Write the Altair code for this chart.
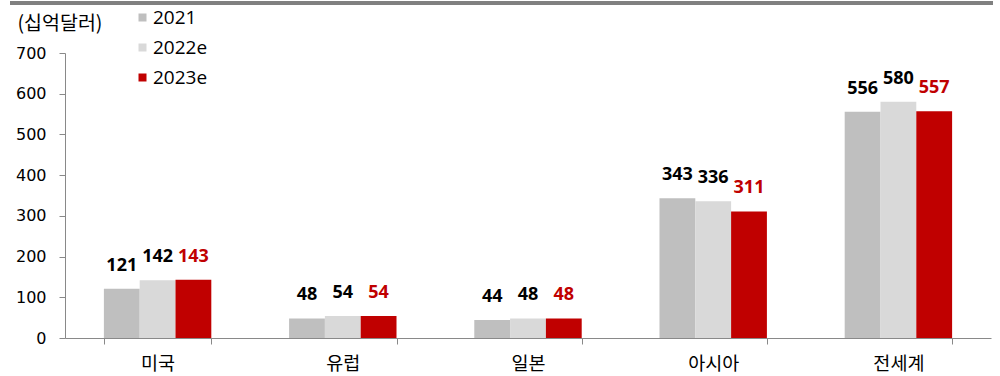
import altair as alt
import pandas as pd

categories = ["미국", "유럽", "일본", "아시아", "전세계"]
series = ["2021", "2022e", "2023e"]
v2021 = [121, 48, 44, 343, 556]
v2022 = [142, 54, 48, 336, 580]
v2023 = [143, 54, 48, 311, 557]
colors = ["#bfbfbf", "#d9d9d9", "#c00000"]

rows = []
for i, c in enumerate(categories):
    for s, vals in zip(series, [v2021, v2022, v2023]):
        rows.append({"category": c, "series": s, "value": vals[i]})
df = pd.DataFrame(rows)

KFONT = "Noto Sans CJK KR"
NFONT = "Open Sans"
AFONT = "DejaVu Sans"

xenc = alt.X(
    "category:N",
    sort=categories,
    scale=alt.Scale(paddingInner=0.42, paddingOuter=0.21),
    axis=alt.Axis(
        title=None, labelAngle=0, tickBand="extent", labelFontSize=18.5,
        labelPadding=10, tickSize=6, labelColor="#000000", labelFont=KFONT,
    ),
)
xoff = alt.XOffset("series:N", sort=series, scale=alt.Scale(paddingInner=0, paddingOuter=0))

bars = alt.Chart(df).mark_bar().encode(
    x=xenc,
    xOffset=xoff,
    y=alt.Y(
        "value:Q",
        scale=alt.Scale(domain=[0, 700], nice=False),
        axis=alt.Axis(
            values=[0, 100, 200, 300, 400, 500, 600, 700], grid=False,
            title="(십억달러)", titleAngle=0, titleAlign="left", titleBaseline="middle",
            titleX=-48, titleY=-30, titleFontSize=19.5, titleFontWeight="normal",
            titleColor="#000000", titleFont=KFONT,
            labelFontSize=16, labelPadding=13, tickSize=6,
            labelColor="#000000", labelFont=AFONT,
        ),
    ),
    color=alt.Color(
        "series:N",
        sort=series,
        scale=alt.Scale(domain=series, range=colors),
        legend=alt.Legend(
            title=None, orient="none", legendX=68, legendY=-45,
            symbolType="square", symbolSize=64, symbolStrokeWidth=0,
            labelFontSize=19, labelColor="#000000", rowPadding=10, labelOffset=1,
            labelFont=NFONT,
        ),
    ),
)

labels = alt.Chart(df).mark_text(
    baseline="alphabetic", dy=-18, fontSize=18, fontWeight="bold", font=NFONT
).encode(
    x=alt.X("category:N", sort=categories),
    xOffset=xoff,
    y="value:Q",
    text="value:Q",
    color=alt.condition(alt.datum.series == "2023e", alt.value("#c00000"), alt.value("#000000")),
)

topline = alt.Chart(df).mark_rule(color="#808080", strokeWidth=2.5).encode(
    x=alt.value(-55), x2=alt.value(928), y=alt.value(-50)
)

chart = (
    alt.layer(bars, labels, topline)
    .properties(
        width=926, height=285,
        autosize=alt.AutoSizeParams(type="none"),
        padding={"left": 65, "top": 53, "right": 9, "bottom": 38},
    )
    .configure(font=NFONT)
    .configure_view(stroke=None)
    .configure_axis(domainColor="#898989", tickColor="#898989")
)

chart.save("out.html", embed_options={"renderer": "svg", "actions": False})
